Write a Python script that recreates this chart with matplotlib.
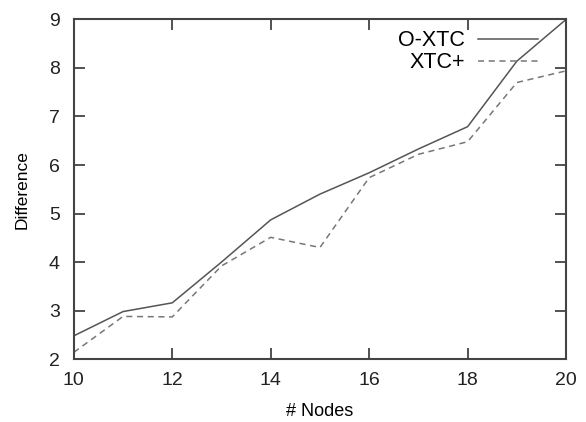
import matplotlib.pyplot as plt

plt.rcParams['font.family'] = ['Liberation Sans', 'DejaVu Sans']

nodes = [10, 11, 12, 13, 14, 15, 16, 17, 18, 19, 20]
o_xtc = [2.48, 2.98, 3.16, 4.0, 4.87, 5.4, 5.84, 6.33, 6.79, 8.14, 9.0]
xtc_plus = [2.14, 2.88, 2.87, 3.92, 4.51, 4.3, 5.74, 6.22, 6.48, 7.7, 7.94]

fig = plt.figure(figsize=(5.86, 4.22), dpi=100)
ax = fig.add_axes([0.126, 0.149, 0.84, 0.805])

ax.plot(nodes, o_xtc, color='#555555', lw=1.1, label='O-XTC')
ax.plot(nodes, xtc_plus, color='#777777', lw=1.1, ls=(0, (4, 3)), label='XTC+')

ax.set_xlim(10, 20)
ax.set_ylim(2, 9)
ax.set_xticks([10, 12, 14, 16, 18, 20])
ax.set_yticks(range(2, 10))
ax.tick_params(direction='in', length=8, width=1.2, color='#333333',
               top=True, right=True, labelsize=14, labelcolor='#222222')
ax.tick_params(axis='x', pad=9)
ax.tick_params(axis='y', pad=10)
for s in ax.spines.values():
    s.set_color('#444444')
    s.set_linewidth(1.5)

ax.set_xlabel('# Nodes', fontsize=13, labelpad=10)
ax.set_ylabel('Difference', fontsize=12.5, labelpad=14)

ax.legend(loc='upper right', frameon=False, markerfirst=False, fontsize=15.5,
          handlelength=2.8, handletextpad=0.6, borderaxespad=0.1,
          labelspacing=0.05, bbox_to_anchor=(0.965, 1.0))

fig.savefig('out.png', dpi=100)
